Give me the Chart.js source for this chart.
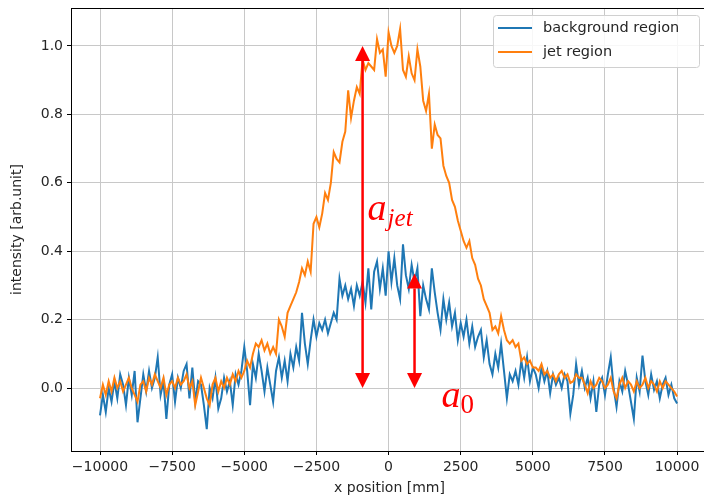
<!DOCTYPE html>
<html>
<head>
<meta charset="utf-8">
<script src="https://cdn.jsdelivr.net/npm/chart.js@4.4.0/dist/chart.umd.min.js"></script>
<style>
  html, body { margin: 0; padding: 0; background: #fff; overflow: hidden; }
  #wrap { width: 704px; height: 498px; overflow: hidden; }
</style>
</head>
<body>
<div id="wrap"><canvas id="profileChart" width="708" height="498"></canvas></div>
<script>
// x positions: -10000 .. 10000 mm every 100 mm
const xStart = -10000;
const xStep = 100;

const seriesNames = ["background region", "jet region"];

// background region
const backgroundValues = [
  -0.08, -0.02, -0.07, 0.00, -0.04, 0.02, -0.03, 0.04, 0.01, -0.05,
  0.03, -0.02, 0.05, -0.10, -0.03, 0.04, -0.01, 0.05, 0.00, 0.03,
  0.09, -0.02, 0.02, -0.09, 0.01, 0.04, -0.04, 0.03, 0.00, 0.05,
  0.07, -0.03, 0.06, -0.04, 0.02, 0.01, -0.05, -0.12, 0.00, -0.03,
  0.03, -0.06, -0.03, 0.03, -0.01, 0.02, -0.05, 0.04, 0.01, 0.05,
  0.12, 0.05, -0.05, 0.07, 0.03, 0.10, 0.05, -0.01, 0.06, 0.01,
  -0.04, 0.05, 0.09, 0.03, 0.08, 0.02, 0.10, 0.06, 0.12, 0.08,
  0.22, 0.13, 0.07, 0.14, 0.20, 0.15, 0.19, 0.17, 0.20, 0.16,
  0.19, 0.22, 0.20, 0.32, 0.27, 0.30, 0.26, 0.29, 0.24, 0.30,
  0.27, 0.31, 0.25, 0.35, 0.23, 0.34, 0.37, 0.29, 0.35, 0.27,
  0.40, 0.31, 0.38, 0.30, 0.26, 0.42, 0.33, 0.29, 0.36, 0.31,
  0.35, 0.21, 0.30, 0.26, 0.23, 0.35, 0.28, 0.22, 0.17, 0.26,
  0.20, 0.25, 0.18, 0.22, 0.14, 0.19, 0.15, 0.20, 0.13, 0.18,
  0.12, 0.15, 0.17, 0.09, 0.14, 0.07, 0.04, 0.10, 0.06, 0.13,
  0.05, -0.03, 0.04, 0.02, 0.05, 0.01, 0.08, 0.03, 0.09, 0.02,
  0.06, 0.04, 0.00, 0.06, 0.02, 0.05, -0.015, 0.04, 0.01, 0.03,
  0.00, 0.04, 0.02, -0.075, -0.02, 0.07, 0.01, 0.05, 0.00, 0.03,
  -0.03, 0.02, -0.07, 0.01, 0.03, -0.02, 0.04, 0.09, 0.00, -0.055,
  0.02, -0.01, 0.05, 0.01, -0.04, -0.09, 0.03, -0.01, 0.095, 0.02,
  -0.02, 0.04, -0.005, 0.02, -0.03, 0.01, 0.03, -0.02, 0.01, -0.03,
  -0.045
];

// jet region
const jetValues = [
  -0.03, 0.01, -0.02, 0.02, -0.01, 0.03, 0.00, 0.02, -0.01, 0.01,
  0.03, 0.00, -0.02, -0.04, 0.01, 0.02, -0.01, 0.03, 0.01, 0.04,
  0.02, 0.00, 0.03, -0.02, 0.01, 0.02, 0.00, 0.03, 0.01, 0.02,
  0.04, 0.00, 0.02, -0.05, -0.01, 0.03, 0.00, -0.03, -0.05, 0.01,
  0.03, -0.01, 0.02, 0.00, 0.03, 0.01, 0.04, 0.02, 0.05, 0.03,
  0.05, 0.08, 0.06, 0.10, 0.13, 0.12, 0.14, 0.11, 0.13, 0.10,
  0.12, 0.10, 0.20, 0.18, 0.15, 0.22, 0.24, 0.26, 0.28, 0.31,
  0.35, 0.33, 0.37, 0.34, 0.48, 0.50, 0.47, 0.51, 0.57, 0.55,
  0.60, 0.69, 0.67, 0.66, 0.72, 0.75, 0.87, 0.79, 0.84, 0.88,
  0.86, 0.96, 0.93, 0.95, 0.94, 0.93, 1.02, 0.98, 0.99, 0.91,
  1.04, 1.00, 0.98, 1.00, 1.05, 0.93, 0.91, 0.97, 0.92, 0.90,
  0.99, 0.94, 0.84, 0.81, 0.86, 0.70, 0.77, 0.74, 0.73, 0.65,
  0.62, 0.60, 0.55, 0.53, 0.49, 0.46, 0.43, 0.41, 0.43, 0.38,
  0.36, 0.32, 0.30, 0.26, 0.24, 0.22, 0.17, 0.18, 0.16, 0.21,
  0.17, 0.14, 0.13, 0.14, 0.12, 0.13, 0.08, 0.09, 0.07, 0.08,
  0.06, 0.06, 0.05, 0.07, 0.04, 0.05, 0.03, 0.04, 0.02, 0.04,
  0.05, 0.03, 0.04, 0.015, 0.02, 0.04, 0.03, 0.03, 0.01, -0.015,
  0.02, 0.00, 0.01, 0.03, 0.02, 0.00, 0.01, 0.03, -0.01, -0.03,
  0.01, 0.03, 0.00, 0.02, 0.01, -0.01, 0.02, 0.00, 0.01, 0.03,
  0.00, 0.02, 0.01, -0.01, 0.02, 0.00, 0.02, 0.01, 0.00, -0.01,
  -0.025
];

const xTicks = [-10000, -7500, -5000, -2500, 0, 2500, 5000, 7500, 10000];
const yTicks = [0.0, 0.2, 0.4, 0.6, 0.8, 1.0];

// red arrows drawn on top: x, from, to
const arrowX = [-900, 900];
const arrowFrom = [0.0, 0.0];
const arrowTo = [1.0, 0.335];

const blue = "#1f77b4";
const orange = "#ff7f0e";

function toPoints(values) {
  return values.map((v, i) => ({ x: xStart + i * xStep, y: v }));
}

function fmtX(v) {
  return v < 0 ? "\u2212" + Math.abs(v) : String(v);
}

const framePlugin = {
  id: "frame",
  afterDraw: (chart) => {
    const ctx = chart.ctx;
    const { top, left, right, bottom } = chart.chartArea;
    ctx.save();
    ctx.strokeStyle = "#000";
    ctx.lineWidth = 1;
    ctx.beginPath();
    ctx.moveTo(left, top + 0.5);
    ctx.lineTo(right, top + 0.5);
    ctx.moveTo(right - 0.5, top);
    ctx.lineTo(right - 0.5, bottom);
    ctx.stroke();
    ctx.restore();
  }
};

function drawArrow(ctx, x, y1, y2) {
  const head = 15, half = 7.5;
  ctx.beginPath();
  ctx.moveTo(x, y1 - head * Math.sign(y1 - y2));
  ctx.lineTo(x, y2 + head * Math.sign(y1 - y2));
  ctx.stroke();
  // heads
  [[y1, Math.sign(y1 - y2)], [y2, Math.sign(y2 - y1)]].forEach(([tip, dir]) => {
    ctx.beginPath();
    ctx.moveTo(x, tip);
    ctx.lineTo(x - half, tip - dir * head);
    ctx.lineTo(x + half, tip - dir * head);
    ctx.closePath();
    ctx.fill();
  });
}

const annotationPlugin = {
  id: "arrows",
  afterDatasetsDraw: (chart) => {
    const ctx = chart.ctx;
    const xs = chart.scales.x, ys = chart.scales.y;
    ctx.save();
    ctx.strokeStyle = "#ff0000";
    ctx.fillStyle = "#ff0000";
    ctx.lineWidth = 2.5;
    for (let i = 0; i < arrowX.length; i++) {
      drawArrow(ctx, xs.getPixelForValue(arrowX[i]), ys.getPixelForValue(arrowFrom[i]), ys.getPixelForValue(arrowTo[i]));
    }
    // labels a_jet and a_0
    ctx.textBaseline = "alphabetic";
    ctx.textAlign = "left";
    let px = xs.getPixelForValue(arrowX[0]) + 5;
    let py = ys.getPixelForValue(0.492);
    ctx.font = "italic 38px 'Liberation Serif'";
    ctx.fillText("a", px, py);
    let w = ctx.measureText("a").width;
    ctx.font = "italic 25px 'Liberation Serif'";
    ctx.fillText("jet", px + w + 1, py + 6);
    px = xs.getPixelForValue(arrowX[1]) + 27;
    py = ys.getPixelForValue(-0.055);
    ctx.font = "italic 38px 'Liberation Serif'";
    ctx.fillText("a", px, py);
    w = ctx.measureText("a").width;
    ctx.font = "27px 'Liberation Serif'";
    ctx.fillText("0", px + w, py + 6);
    ctx.restore();
  }
};

const legendPlugin = {
  id: "boxLegend",
  afterDraw: (chart) => {
    const ctx = chart.ctx;
    const bx = 493, by = 15, bw = 206, bh = 52;
    ctx.save();
    ctx.fillStyle = "rgba(255,255,255,0.85)";
    ctx.strokeStyle = "#d0d0d0";
    ctx.lineWidth = 1;
    ctx.beginPath();
    ctx.roundRect(bx + 0.5, by + 0.5, bw, bh, 3);
    ctx.fill();
    ctx.stroke();
    ctx.font = "14.5px 'DejaVu Sans'";
    ctx.textBaseline = "middle";
    ctx.fillStyle = "#262626";
    chart.data.datasets.forEach((ds, i) => {
      const y = by + 13 + i * 24;
      ctx.strokeStyle = ds.borderColor;
      ctx.lineWidth = 2;
      ctx.beginPath();
      ctx.moveTo(bx + 5, y);
      ctx.lineTo(bx + 39, y);
      ctx.stroke();
      ctx.fillText(ds.label, bx + 50, y);
    });
    ctx.restore();
  }
};

const ctx = document.getElementById("profileChart").getContext("2d");

new Chart(ctx, {
  type: "line",
  data: {
    datasets: [
      {
        label: seriesNames[0],
        data: toPoints(backgroundValues),
        borderColor: blue,
        borderWidth: 2,
        pointRadius: 0,
        tension: 0,
        order: 1
      },
      {
        label: seriesNames[1],
        data: toPoints(jetValues),
        borderColor: orange,
        borderWidth: 2,
        pointRadius: 0,
        tension: 0,
        order: 0
      }
    ]
  },
  options: {
    responsive: false,
    animation: false,
    layout: { padding: { top: 8, right: 0, left: 0, bottom: 0 } },
    plugins: {
      legend: { display: false },
      tooltip: { enabled: false }
    },
    scales: {
      x: {
        type: "linear",
        min: -11005,
        max: 11070,
        afterBuildTicks: (axis) => { axis.ticks = xTicks.map(v => ({ value: v })); },
        afterFit: (axis) => { axis.height = 47; axis.paddingLeft = 0; axis.paddingRight = 0; },
        ticks: {
          callback: (v) => fmtX(v),
          color: "#262626",
          font: { family: "DejaVu Sans", size: 14 },
          padding: 4,
          maxRotation: 0
        },
        grid: { color: "#c8c8c8", lineWidth: 1, tickColor: "#000", tickLength: 4 },
        border: { display: true, color: "#000", width: 1 },
        title: {
          display: true,
          text: "x position [mm]",
          color: "#262626",
          font: { family: "DejaVu Sans", size: 14 },
          padding: { top: 0, bottom: 1 }
        }
      },
      y: {
        min: -0.184,
        max: 1.111,
        afterBuildTicks: (axis) => { axis.ticks = yTicks.map(v => ({ value: v })); },
        afterFit: (axis) => { axis.width = 71; axis.paddingTop = 0; axis.paddingBottom = 0; },
        ticks: {
          callback: (v) => v.toFixed(1),
          color: "#262626",
          font: { family: "DejaVu Sans", size: 14 },
          padding: 4
        },
        grid: { color: "#c8c8c8", lineWidth: 1, tickColor: "#000", tickLength: 4 },
        border: { display: true, color: "#000", width: 1 },
        title: {
          display: true,
          text: "intensity [arb.unit]",
          color: "#262626",
          font: { family: "DejaVu Sans", size: 14 },
          padding: { top: 9, bottom: 0 }
        }
      }
    }
  },
  plugins: [framePlugin, annotationPlugin, legendPlugin]
});
</script>
</body>
</html>
